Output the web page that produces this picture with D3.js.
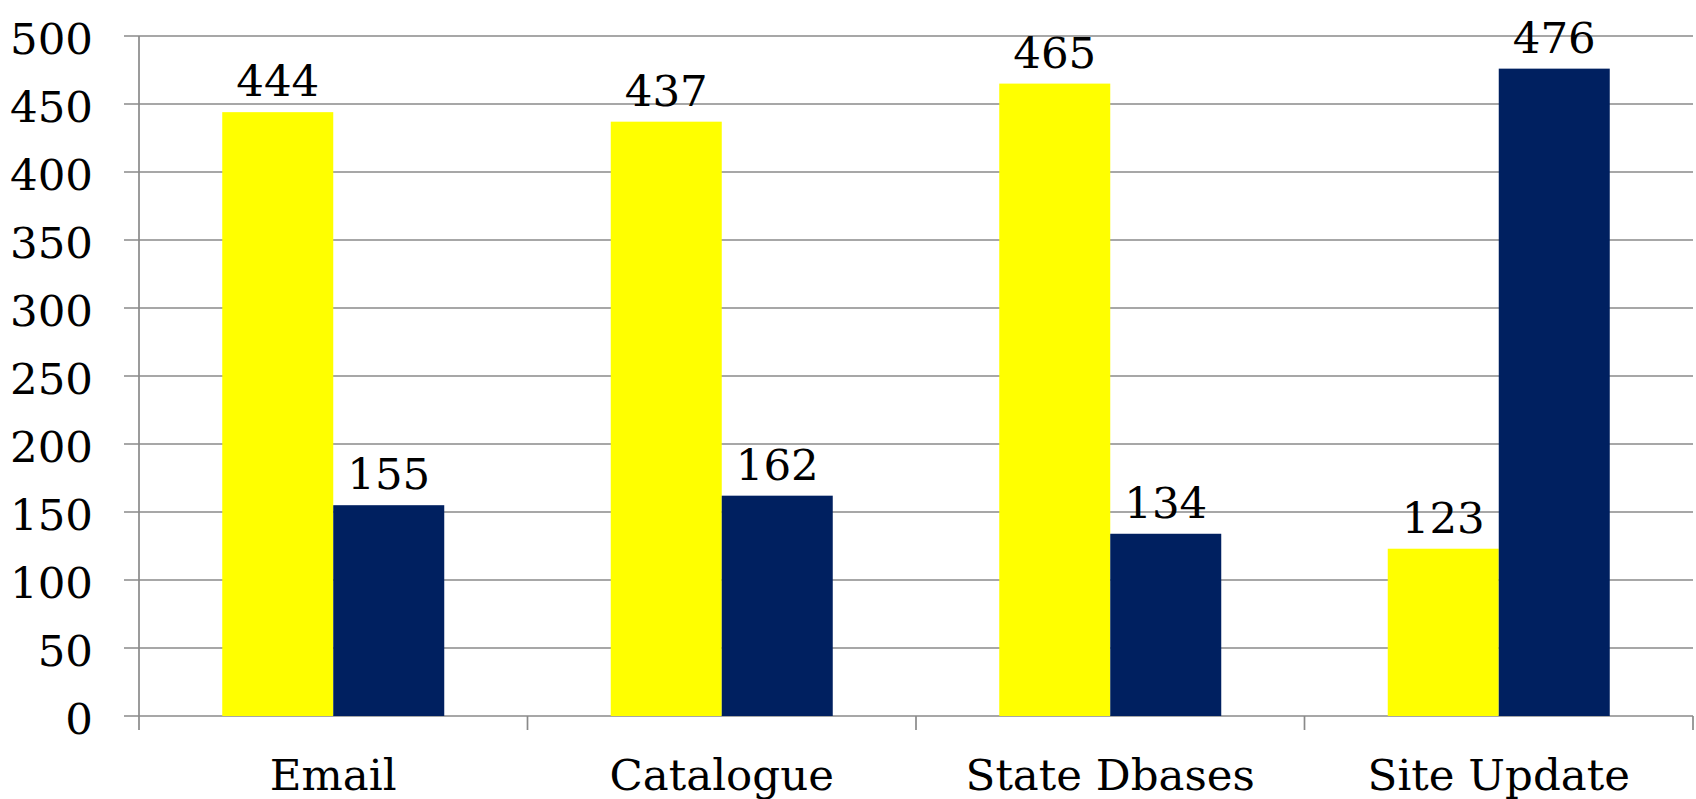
<!DOCTYPE html>
<html>
<head>
<meta charset="utf-8">
<script src="https://cdn.jsdelivr.net/npm/d3@7"></script>
<style>
  html, body { margin: 0; padding: 0; background: #ffffff; }
  svg { display: block; }
  text { font-family: "DejaVu Serif", Georgia, serif; fill: #000; }
</style>
</head>
<body>
<svg id="chart" width="1696" height="799"></svg>
<script>
// Categories and the two series plotted for each
const categories = ["Email", "Catalogue", "State Dbases", "Site Update"];
const seriesNames = ["Series 1", "Series 2"];
const series1 = [444, 437, 465, 123];
const series2 = [155, 162, 134, 476];
const yTicks = [0, 50, 100, 150, 200, 250, 300, 350, 400, 450, 500];
const seriesColors = ["#FFFF00", "#002060"];

const plotLeft = 139, plotRight = 1693, plotTop = 36, plotBottom = 716;
const fontSize = 43.5;

const svg = d3.select("#chart");

const y = d3.scaleLinear().domain([0, 500]).range([plotBottom, plotTop]);
const x0 = d3.scaleBand().domain(categories).range([plotLeft, plotRight]).padding(0);
// gap between groups = 1.5 bar widths -> group occupies 2/3.5 of a category
const groupW = x0.bandwidth() * 2 / 3.5;
const x1 = d3.scaleBand().domain(seriesNames).range([0, groupW]).padding(0);

const gridColor = "#8a8a8a";

// Horizontal gridlines, extending left past the axis as tick marks
svg.append("g")
  .selectAll("line")
  .data(yTicks)
  .join("line")
  .attr("x1", plotLeft - 15)
  .attr("x2", plotRight)
  .attr("y1", d => y(d))
  .attr("y2", d => y(d))
  .attr("stroke", gridColor)
  .attr("stroke-width", 1.7);

// Vertical axis line
svg.append("line")
  .attr("x1", plotLeft).attr("x2", plotLeft)
  .attr("y1", y(500)).attr("y2", plotBottom + 14)
  .attr("stroke", gridColor).attr("stroke-width", 1.7);

// Category boundary ticks below the baseline
const boundaries = categories.map(c => x0(c)).concat([plotRight]);
svg.append("g")
  .selectAll("line")
  .data(boundaries.slice(1))
  .join("line")
  .attr("x1", d => d).attr("x2", d => d)
  .attr("y1", plotBottom).attr("y2", plotBottom + 14)
  .attr("stroke", gridColor).attr("stroke-width", 1.7);

// Y tick labels
svg.append("g")
  .selectAll("text")
  .data(yTicks)
  .join("text")
  .attr("x", 93)
  .attr("y", d => y(d) + 18)
  .attr("text-anchor", "end")
  .attr("font-size", fontSize)
  .text(d => d);

// Bars
const rows = categories.map((c, i) => ({
  cat: c,
  vals: [
    { name: seriesNames[0], v: series1[i], color: seriesColors[0] },
    { name: seriesNames[1], v: series2[i], color: seriesColors[1] }
  ]
}));

const groups = svg.append("g")
  .selectAll("g")
  .data(rows)
  .join("g")
  .attr("transform", d => `translate(${x0(d.cat) + (x0.bandwidth() - groupW) / 2},0)`);

groups.selectAll("rect")
  .data(d => d.vals)
  .join("rect")
  .attr("x", d => x1(d.name))
  .attr("y", d => y(d.v))
  .attr("width", x1.bandwidth())
  .attr("height", d => y(0) - y(d.v))
  .attr("fill", d => d.color);

// Value labels above bars
groups.selectAll("text")
  .data(d => d.vals)
  .join("text")
  .attr("x", d => x1(d.name) + x1.bandwidth() / 2)
  .attr("y", d => y(d.v) - 16)
  .attr("text-anchor", "middle")
  .attr("font-size", fontSize)
  .text(d => d.v);

// Category labels
svg.append("g")
  .selectAll("text")
  .data(categories)
  .join("text")
  .attr("x", d => x0(d) + x0.bandwidth() / 2)
  .attr("y", 790)
  .attr("text-anchor", "middle")
  .attr("font-size", fontSize)
  .text(d => d);
</script>
</body>
</html>
